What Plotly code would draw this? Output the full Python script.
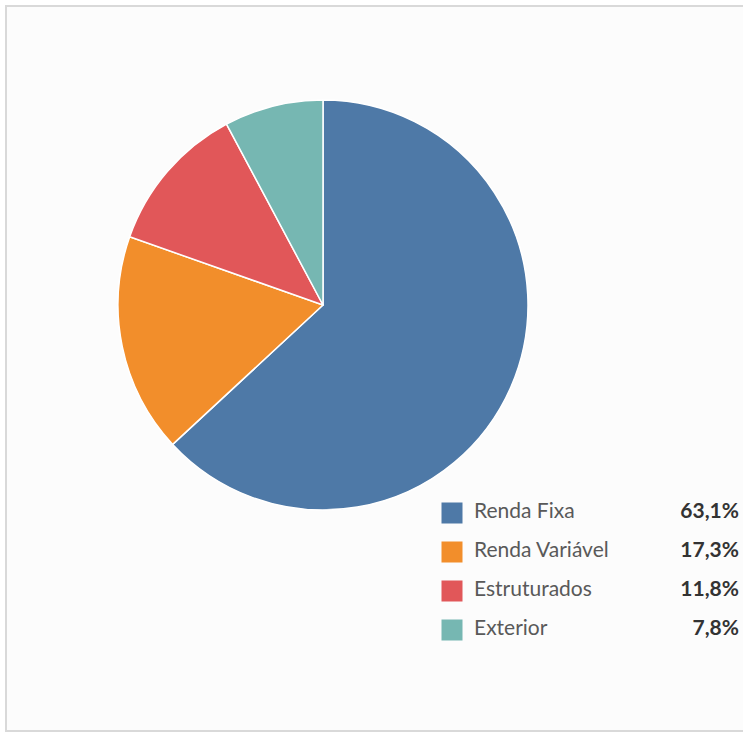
import plotly.graph_objects as go

categories = ["Renda Fixa", "Renda Variável", "Estruturados", "Exterior"]
values = [63.1, 17.3, 11.8, 7.8]
value_labels = ["63,1%", "17,3%", "11,8%", "7,8%"]
colors = ["#4e79a7", "#f28e2b", "#e15759", "#76b7b2"]

W, H = 743, 733

fig = go.Figure()

# pie
cx, cy, r = 323, 305, 205
fig.add_trace(go.Pie(
    labels=categories, values=values, sort=False, direction="clockwise", rotation=0,
    marker=dict(colors=colors, line=dict(color="white", width=1.5)),
    textinfo="none", hoverinfo="label+percent", showlegend=False,
    domain=dict(x=[(cx - r) / W, (cx + r) / W], y=[1 - (cy + r) / H, 1 - (cy - r) / H]),
))

# custom legend
y0, dy = 513, 39
ys = [y0 + i * dy for i in range(len(categories))]
fig.add_trace(go.Scatter(
    x=[452] * len(categories), y=ys, mode="markers",
    marker=dict(symbol="square", size=21, color=colors, line=dict(width=0)),
    hoverinfo="skip", showlegend=False,
))
fig.add_trace(go.Scatter(
    x=[474] * len(categories), y=ys, mode="text", text=categories,
    textposition="middle right",
    textfont=dict(family="Lato, Noto Sans, sans-serif", size=21, color="#595959"),
    hoverinfo="skip", showlegend=False,
))
fig.add_trace(go.Scatter(
    x=[739] * len(categories), y=ys, mode="text",
    text=["<b>%s</b>" % v for v in value_labels],
    textposition="middle left",
    textfont=dict(family="Lato, Noto Sans, sans-serif", size=21, color="#333333"),
    hoverinfo="skip", showlegend=False,
))

fig.update_layout(
    width=W, height=H, autosize=False,
    margin=dict(l=0, r=0, t=0, b=0),
    paper_bgcolor="white", plot_bgcolor="rgba(0,0,0,0)",
    xaxis=dict(range=[0, W], visible=False, fixedrange=True),
    yaxis=dict(range=[H, 0], visible=False, fixedrange=True),
    shapes=[dict(type="rect", xref="paper", yref="paper",
                 x0=6 / W, x1=1.01, y0=1 - 731 / H, y1=1 - 6 / H,
                 line=dict(color="#d9d9d9", width=2), fillcolor="#fcfcfc", layer="below")],
)

fig.write_html("out.html", config={"displayModeBar": False},
               post_script="document.body.style.margin='0';document.body.style.overflow='hidden';")
